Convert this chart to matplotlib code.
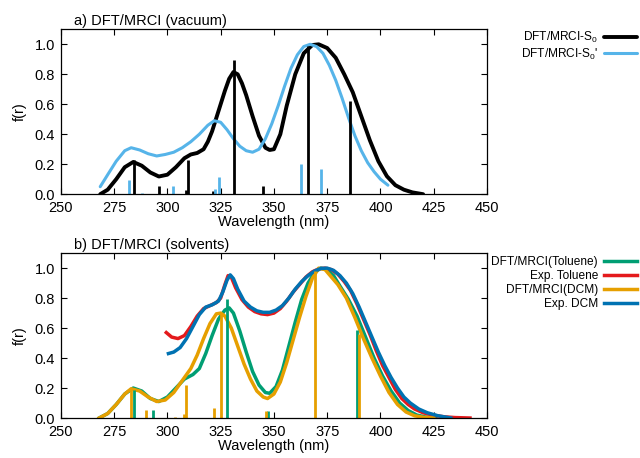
import matplotlib
matplotlib.use("Agg")
import matplotlib.pyplot as plt

plt.rcParams['font.family'] = ['Liberation Sans', 'DejaVu Sans']
plt.rcParams['mathtext.default'] = 'regular'
plt.rcParams['font.size'] = 10.5

# (a) vacuum spectra
s0_wl = [268.5, 272, 276, 280, 284, 288, 292, 296, 300, 304, 308, 311, 314, 317, 319,
         321, 323, 325, 327, 329, 331, 333, 335, 337, 340, 343, 346, 348, 350, 353,
         356, 360, 364, 368, 371, 375, 379, 383, 387, 391, 395, 399, 403, 407, 411,
         415, 420]
s0_f = [0.0, 0.03, 0.10, 0.18, 0.215, 0.19, 0.145, 0.118, 0.13, 0.18, 0.24, 0.265,
        0.275, 0.30, 0.35, 0.42, 0.51, 0.60, 0.69, 0.77, 0.815, 0.80, 0.74, 0.66,
        0.52, 0.39, 0.31, 0.295, 0.30, 0.40, 0.59, 0.80, 0.94, 0.995, 1.0, 0.975,
        0.91, 0.80, 0.68, 0.52, 0.36, 0.22, 0.12, 0.06, 0.03, 0.012, 0.0]

s0p_wl = [268.5, 272, 276, 280, 283, 287, 291, 295, 299, 303, 307, 311, 315, 319,
          322, 325, 328, 331, 334, 337, 340, 343, 346, 349, 352, 355, 358, 361, 364,
          367, 370, 373, 376, 379, 382, 385, 388, 391, 394, 397, 400, 403.5]
s0p_f = [0.05, 0.13, 0.22, 0.29, 0.31, 0.295, 0.27, 0.255, 0.265, 0.28, 0.31, 0.35,
         0.40, 0.46, 0.49, 0.48, 0.43, 0.37, 0.32, 0.29, 0.28, 0.30, 0.37, 0.47,
         0.59, 0.72, 0.84, 0.93, 0.985, 1.0, 0.985, 0.94, 0.86, 0.76, 0.64, 0.51,
         0.39, 0.29, 0.21, 0.15, 0.10, 0.06]

s0_stick_wl = [284.2, 296.1, 308.6, 309.8, 321.6, 331.2, 344.8, 366.2, 385.8]
s0_stick_f = [0.227, 0.053, 0.027, 0.231, 0.022, 0.898, 0.053, 0.987, 0.622]
s0p_stick_wl = [282.2, 288.0, 302.8, 322.4, 324.4, 362.6, 372.3]
s0p_stick_f = [0.093, 0.010, 0.053, 0.035, 0.116, 0.204, 0.169]

# (b) solvent spectra
tol_wl = [268, 272, 276, 280, 284, 288, 292, 296, 300, 304, 308, 312, 315, 318, 321,
          324, 327, 329, 331, 334, 337, 340, 343, 346, 348, 351, 354, 357, 360, 363,
          366, 369, 372, 375, 378, 381, 385, 389, 393, 397, 401, 405, 409, 413, 417,
          421, 426]
tol_f = [0.0, 0.03, 0.09, 0.16, 0.20, 0.18, 0.13, 0.11, 0.14, 0.20, 0.26, 0.29, 0.33,
         0.43, 0.55, 0.66, 0.72, 0.735, 0.70, 0.58, 0.44, 0.31, 0.22, 0.17, 0.165,
         0.21, 0.32, 0.48, 0.64, 0.79, 0.90, 0.97, 1.0, 0.99, 0.95, 0.88, 0.79, 0.68,
         0.54, 0.40, 0.28, 0.18, 0.10, 0.05, 0.02, 0.007, 0.0]

dcm_wl = [268, 272, 276, 280, 283, 287, 291, 295, 299, 303, 307, 311, 314, 317, 320,
          323, 325, 327, 330, 333, 336, 339, 342, 345, 347, 350, 353, 356, 359, 362,
          365, 368, 371, 374, 377, 380, 384, 388, 392, 396, 400, 404, 408, 412, 416,
          420, 425]
dcm_f = [0.0, 0.03, 0.09, 0.16, 0.195, 0.18, 0.14, 0.11, 0.12, 0.17, 0.25, 0.33, 0.42,
         0.53, 0.63, 0.695, 0.70, 0.68, 0.60, 0.48, 0.36, 0.26, 0.18, 0.14, 0.13,
         0.16, 0.24, 0.37, 0.52, 0.67, 0.81, 0.93, 1.0, 0.99, 0.94, 0.89, 0.80, 0.67,
         0.53, 0.40, 0.28, 0.17, 0.09, 0.04, 0.015, 0.005, 0.0]

exp_tol_wl = [299.5, 302, 305, 308, 311, 314, 317, 320, 323, 325, 327, 328.5, 330,
              332, 335, 338, 341, 344, 347, 350, 353, 356, 359, 362, 365, 368, 371,
              374, 377, 380, 383, 386, 389, 392, 395, 398, 401, 404, 407, 410, 413,
              416, 420, 425, 430, 435, 442]
exp_tol_f = [0.57, 0.54, 0.53, 0.55, 0.61, 0.68, 0.73, 0.75, 0.77, 0.80, 0.89, 0.95,
             0.94, 0.87, 0.79, 0.74, 0.71, 0.695, 0.69, 0.70, 0.73, 0.78, 0.84, 0.89,
             0.94, 0.975, 0.995, 1.0, 0.99, 0.96, 0.91, 0.85, 0.76, 0.66, 0.56, 0.45,
             0.35, 0.27, 0.19, 0.13, 0.09, 0.06, 0.035, 0.018, 0.008, 0.003, 0.0]

exp_dcm_wl = [300.5, 303, 306, 309, 312, 315, 318, 321, 324, 326, 328, 329.5, 331,
              333, 336, 339, 342, 345, 348, 351, 354, 357, 360, 363, 366, 369, 372,
              375, 378, 381, 384, 387, 390, 393, 396, 399, 402, 405, 408, 411, 414,
              418, 422, 427, 433]
exp_dcm_f = [0.43, 0.44, 0.47, 0.53, 0.61, 0.69, 0.74, 0.755, 0.78, 0.84, 0.92, 0.955,
             0.93, 0.86, 0.78, 0.74, 0.715, 0.705, 0.705, 0.72, 0.75, 0.80, 0.86, 0.91,
             0.95, 0.98, 0.998, 1.0, 0.985, 0.95, 0.90, 0.83, 0.74, 0.64, 0.54, 0.44,
             0.35, 0.27, 0.20, 0.14, 0.10, 0.06, 0.035, 0.015, 0.0]

tol_stick_wl = [284.3, 293.2, 328.2, 347.0, 388.8]
tol_stick_f = [0.189, 0.056, 0.796, 0.049, 0.589]
dcm_stick_wl = [283.1, 290.0, 303.6, 307.6, 308.8, 322.1, 325.1, 346.1, 369.3, 390.1]
dcm_stick_f = [0.196, 0.056, 0.007, 0.029, 0.222, 0.067, 0.70, 0.049, 0.982, 0.56]

xticks = [250, 275, 300, 325, 350, 375, 400, 425, 450]
yticks = [0.0, 0.2, 0.4, 0.6, 0.8, 1.0]

black = 'black'
skyblue = '#56b4e9'
green = '#009e73'
red = '#e41a1c'
orange = '#e69f00'
blue = '#0072b2'

fig = plt.figure(figsize=(6.4, 4.58), dpi=100)
ax1 = fig.add_axes([0.095, 0.576, 0.666, 0.36])
ax2 = fig.add_axes([0.095, 0.0873, 0.666, 0.36])


def style(ax, title):
    ax.set_xlim(250, 450)
    ax.set_ylim(0, 1.1)
    ax.set_xticks(xticks)
    ax.set_yticks(yticks)
    ax.set_yticklabels([f"{v:.1f}" for v in yticks])
    ax.tick_params(direction='in', length=4, width=0.8, top=True, right=True,
                   labelsize=10.5)
    ax.tick_params(axis='x', pad=5)
    ax.tick_params(axis='y', pad=4)
    ax.set_xlabel("Wavelength (nm)", labelpad=0)
    ax.set_ylabel("f(r)", labelpad=6)
    for sp in ax.spines.values():
        sp.set_linewidth(0.9)
    ax.text(0.03, 1.005, title, transform=ax.transAxes, ha='left', va='bottom',
            fontsize=10.5)


legend_kw = dict(loc='upper right', frameon=False, markerfirst=False,
                 handlelength=2.8, handletextpad=0.5, labelspacing=0.15,
                 fontsize=8.6, borderaxespad=0.0, borderpad=0.0)

# top panel
l1, = ax1.plot(s0_wl, s0_f, color=black, lw=2.8, solid_capstyle='round')
l2, = ax1.plot(s0p_wl, s0p_f, color=skyblue, lw=2.2, solid_capstyle='round')
ax1.vlines(s0_stick_wl, 0, s0_stick_f, color=black, lw=2.0)
ax1.vlines(s0p_stick_wl, 0, s0p_stick_f, color=skyblue, lw=2.0)
style(ax1, "a) DFT/MRCI (vacuum)")
fig.legend([l1, l2], ["DFT/MRCI-S$_0$", "DFT/MRCI-S$_0$'"],
           bbox_to_anchor=(0.996, 0.935), **legend_kw)

# bottom panel
m1, = ax2.plot(tol_wl, tol_f, color=green, lw=2.5)
m2, = ax2.plot(exp_tol_wl, exp_tol_f, color=red, lw=2.5)
m3, = ax2.plot(dcm_wl, dcm_f, color=orange, lw=2.5)
m4, = ax2.plot(exp_dcm_wl, exp_dcm_f, color=blue, lw=2.5)
ax2.vlines(tol_stick_wl, 0, tol_stick_f, color=green, lw=2.0)
ax2.vlines(dcm_stick_wl, 0, dcm_stick_f, color=orange, lw=2.0)
style(ax2, "b) DFT/MRCI (solvents)")
fig.legend([m1, m2, m3, m4],
           ["DFT/MRCI(Toluene)", "Exp. Toluene", "DFT/MRCI(DCM)", "Exp. DCM"],
           bbox_to_anchor=(0.996, 0.44), **legend_kw)

fig.savefig("out.png", dpi=100)
